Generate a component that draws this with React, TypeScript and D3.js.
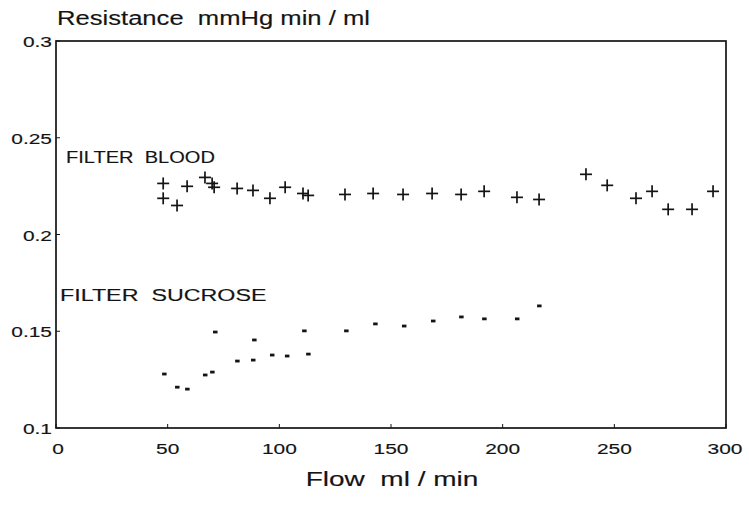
import React from "react";
import * as d3 from "d3";

const bloodFlow = [48, 48, 54.2, 58.7, 66.7, 69.9, 70.8, 81.1, 88.2, 95.8, 102.6, 110.6, 112.9, 129.4, 142, 155.4, 168.4, 181.4, 191.7, 206.4, 216.3, 237.3, 246.8, 259.7, 266.9, 274.1, 284.8, 294.2];
const bloodRes = [0.2264, 0.2187, 0.215, 0.2249, 0.2295, 0.2264, 0.2244, 0.2238, 0.2228, 0.2187, 0.2244, 0.2212, 0.2202, 0.2207, 0.2212, 0.2207, 0.2212, 0.2207, 0.2223, 0.2192, 0.2181, 0.2311, 0.2254, 0.2187, 0.2223, 0.213, 0.213, 0.2223];

const sucroseFlow = [48.4, 54.2, 58.7, 66.7, 69.9, 71.2, 81.1, 88.2, 88.7, 96.7, 103.4, 111.1, 112.9, 129.9, 142.9, 155.8, 168.8, 181.4, 191.7, 206.4, 216.3];
const sucroseRes = [0.128, 0.1212, 0.1202, 0.1275, 0.129, 0.1497, 0.1347, 0.1352, 0.1456, 0.1378, 0.1373, 0.1503, 0.1383, 0.1503, 0.1539, 0.1528, 0.1554, 0.1575, 0.1565, 0.1565, 0.1632];

const xTicks = [0, 50, 100, 150, 200, 250, 300];
const yTicks = [0.1, 0.15, 0.2, 0.25, 0.3];
const yTickLabels = ["0.1", "0.15", "0.2", "0.25", "0.3"];

const FONT = "'Liberation Sans', Arial, sans-serif";
const INK = "#141414";

function Wide({ x, y, size, sx, anchor = "start", children }: any) {
  return (
    <text
      transform={`translate(${x},${y}) scale(${sx},1)`}
      fontSize={size}
      textAnchor={anchor}
      fill={INK}
      stroke={INK}
      strokeWidth={0.15}
      xmlSpace="preserve"
    >
      {children}
    </text>
  );
}

export default function App() {
  const W = 749, H = 519;
  const left = 56, right = 726, top = 41, bottom = 428;
  const x = d3.scaleLinear().domain([0, 300]).range([left, right]);
  const y = d3.scaleLinear().domain([0.1, 0.3]).range([bottom, top]);

  return (
    <svg width={W} height={H} style={{ position: "absolute", left: 0, top: 0, background: "#fff" }} fontFamily={FONT}>
      <rect x={0} y={0} width={W} height={H} fill="#fff" />
      <rect x={left} y={top} width={right - left} height={bottom - top} fill="none" stroke={INK} strokeWidth={1.7} />
      {xTicks.map((t) => (
        <g key={"x" + t}>
          <line x1={x(t)} x2={x(t)} y1={bottom} y2={bottom - 4} stroke={INK} strokeWidth={1} />
          <Wide x={x(t) + (t === 0 ? 2 : t === 300 ? -1 : 0)} y={bottom + 26} size={15.5} sx={1.35} anchor="middle">{String(t)}</Wide>
        </g>
      ))}
      {yTicks.map((t, i) => (
        <g key={"y" + t}>
          <line x1={left} x2={left + 4} y1={y(t)} y2={y(t)} stroke={INK} strokeWidth={1} />
          <Wide x={left - 4} y={y(t) + 6} size={15.5} sx={1.35} anchor="end">{yTickLabels[i]}</Wide>
        </g>
      ))}
      <Wide x={57} y={25} size={21} sx={1.22}>{"Resistance  mmHg min / ml"}</Wide>
      <Wide x={392} y={486} size={20} sx={1.4} anchor="middle">{"Flow  ml / min"}</Wide>
      <Wide x={66} y={163} size={17} sx={1.18}>{"FILTER  BLOOD"}</Wide>
      <Wide x={60} y={301} size={17} sx={1.37}>{"FILTER  SUCROSE"}</Wide>
      {bloodFlow.map((f, i) => {
        const cx = x(f), cy = y(bloodRes[i]);
        return (
          <g key={"b" + i} stroke={INK} strokeWidth={1.7}>
            <line x1={cx - 6} x2={cx + 6} y1={cy} y2={cy} />
            <line x1={cx} x2={cx} y1={cy - 6} y2={cy + 6} />
          </g>
        );
      })}
      {sucroseFlow.map((f, i) => (
        <rect key={"s" + i} x={x(f) - 2} y={y(sucroseRes[i]) - 1.2} width={4.5} height={2.8} fill={INK} />
      ))}
    </svg>
  );
}
